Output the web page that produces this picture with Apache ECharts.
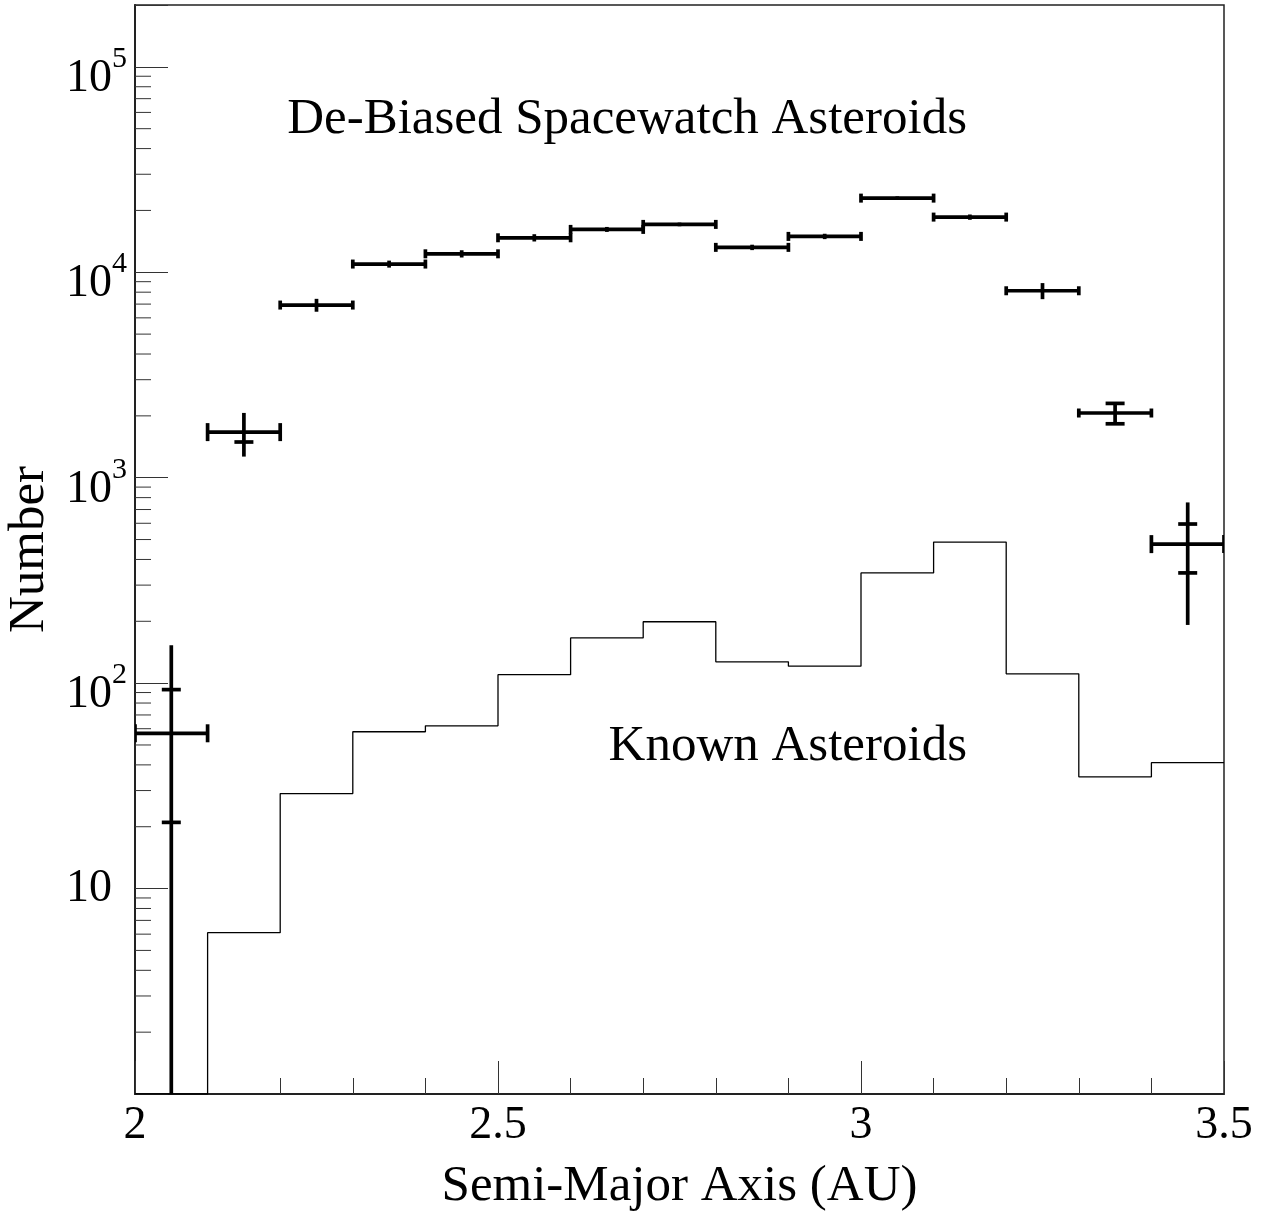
<!DOCTYPE html>
<html><head><meta charset="utf-8">
<script src="https://cdn.jsdelivr.net/npm/echarts@6/dist/echarts.min.js"></script>
<style>html,body{margin:0;padding:0;background:#fff}#chart{width:1264px;height:1214px}</style>
</head><body><div id="chart"></div>
<script>
// ---- data ----
const binEdges = [2.0, 2.1, 2.2, 2.3, 2.4, 2.5, 2.6, 2.7, 2.8, 2.9, 3.0, 3.1, 3.2, 3.3, 3.4, 3.5];
const knownCounts = [1, 6.1, 29, 58, 62, 110, 166, 199, 127, 121, 344, 486, 111, 35, 41];
const debiasedCounts = [57, 1667, 6925, 10965, 12300, 14720, 16170, 17100, 13220, 14950, 22960, 18560, 8128, 2065, 475];
const debiasedErrTotal = [96, 400, 500, 430, 500, 600, 450, 350, 400, 450, 460, 550, 730, 235, 283];
const debiasedErrStatLow = [36, 175, null, null, null, null, null, null, null, null, null, null, null, 235, 131];
const debiasedErrStatHigh = [36, null, null, null, null, null, null, null, null, null, null, null, null, 235, 120];
const xTickValues = [2, 2.5, 3, 3.5];
const yTickExponents = [1, 2, 3, 4, 5];
const xTitle = 'Semi-Major Axis (AU)';
const yTitle = 'Number';
const labelDebiased = 'De-Biased Spacewatch Asteroids';
const labelKnown = 'Known Asteroids';

const X_MIN = 2, X_MAX = 3.5, Y_MIN = 1, Y_MAX = 2e5;
const FONT = '"Liberation Serif", "Times New Roman", serif';

// known histogram as step line through bin edges
const knownStep = binEdges.map((e, i) => [e, knownCounts[Math.min(i, knownCounts.length - 1)]]);

// de-biased points with errors
const debiasedData = debiasedCounts.map((v, i) => [
  binEdges[i], binEdges[i + 1], v, debiasedErrTotal[i],
  debiasedErrStatLow[i] == null ? 0 : debiasedErrStatLow[i],
  debiasedErrStatHigh[i] == null ? 0 : debiasedErrStatHigh[i]
]);

// minor log ticks (2..9 x 10^k)
const minorTicks = [];
for (let k = 0; k <= 5; k++) for (let m = 2; m <= 9; m++) {
  const v = m * Math.pow(10, k);
  if (v < Y_MAX) minorTicks.push([X_MIN, v]);
}

const chart = echarts.init(document.getElementById('chart'), null, {renderer: 'canvas'});
const lineStyleBlack = {stroke: '#000', lineWidth: 3.7};

chart.setOption({
  animation: false,
  backgroundColor: '#fff',
  grid: {left: 135, right: 40, top: 5, bottom: 120, outerBoundsMode: 'none', containLabel: false,
         show: true, borderColor: '#222', borderWidth: 1.5, backgroundColor: 'transparent'},
  xAxis: {
    type: 'value', min: X_MIN, max: X_MAX, interval: 0.5,
    name: xTitle, nameLocation: 'middle', nameGap: 67,
    nameTextStyle: {fontFamily: FONT, fontSize: 51, color: '#000'},
    axisLine: {show: true, lineStyle: {color: '#222', width: 2}},
    axisTick: {show: true, inside: true, length: 33, lineStyle: {color: '#333', width: 1}},
    minorTick: {show: true, splitNumber: 5, length: 16, lineStyle: {color: '#333', width: 1}},
    splitLine: {show: false},
    axisLabel: {
      margin: 9, fontFamily: FONT, fontSize: 46, color: '#000',
      formatter: v => { const t = xTickValues.find(x => Math.abs(x - v) < 1e-6); return t === undefined ? '' : String(t); }
    }
  },
  yAxis: {
    type: 'log', logBase: 10, min: Y_MIN, max: Y_MAX,
    name: yTitle, nameLocation: 'middle', nameGap: 74,
    nameTextStyle: {fontFamily: FONT, fontSize: 51, color: '#000'},
    axisLine: {show: true, lineStyle: {color: '#222', width: 2}},
    axisTick: {show: true, inside: true, length: 33, lineStyle: {color: '#333', width: 1}},
    splitLine: {show: false},
    axisLabel: {
      margin: 8, fontFamily: FONT, fontSize: 46, color: '#000',
      formatter: v => {
        const k = Math.round(Math.log10(v));
        if (Math.abs(v - Math.pow(10, k)) > 1e-6 * v) return '';
        if (!yTickExponents.includes(k)) return '';
        if (k === 1) return '{bb|10}{e| }';
        return '{b|10}{s|' + k + '}';
      },
      rich: {
        b: {fontFamily: FONT, fontSize: 46, lineHeight: 46, padding: [12, 0, 0, 0], verticalAlign: 'top', color: '#000'},
        s: {fontFamily: FONT, fontSize: 30, lineHeight: 30, padding: [0, 0, 49, 0], verticalAlign: 'top', color: '#000'},
        bb: {fontFamily: FONT, fontSize: 46, lineHeight: 46, color: '#000'},
        e: {fontFamily: FONT, fontSize: 30, lineHeight: 30, width: 15, color: '#000'}
      }
    }
  },
  series: [
    {
      type: 'line', data: knownStep, step: 'end', symbol: 'none', clip: true,
      lineStyle: {color: '#000', width: 1.3}, silent: true
    },
    {
      type: 'custom', data: minorTicks, clip: true, silent: true,
      encode: {x: 0, y: 1},
      renderItem: (params, api) => {
        const p = api.coord([api.value(0), api.value(1)]);
        return {type: 'line', shape: {x1: p[0], y1: p[1], x2: p[0] + 16, y2: p[1]}, style: {stroke: '#333', lineWidth: 1}};
      }
    },
    {
      type: 'custom', data: debiasedData, clip: true, silent: true,
      encode: {x: [0, 1], y: 2},
      renderItem: (params, api) => {
        const x0 = api.value(0), x1 = api.value(1), y = api.value(2);
        const e = api.value(3), sl = api.value(4), sh = api.value(5);
        const xc = (x0 + x1) / 2;
        const pL = api.coord([x0, y]), pR = api.coord([x1, y]);
        const pT = api.coord([xc, y + e]);
        const pB = api.coord([xc, Math.max(y - e, Y_MIN)]);
        const half = (pB[1] - pT[1]) / 2 > 15 ? 9 : 4.5;
        const children = [
          {type: 'line', shape: {x1: pL[0], y1: pL[1], x2: pR[0], y2: pR[1]}, style: lineStyleBlack},
          {type: 'line', shape: {x1: pL[0], y1: pL[1] - half, x2: pL[0], y2: pL[1] + half}, style: lineStyleBlack},
          {type: 'line', shape: {x1: pR[0], y1: pR[1] - half, x2: pR[0], y2: pR[1] + half}, style: lineStyleBlack},
          {type: 'line', shape: {x1: pT[0], y1: pT[1], x2: pB[0], y2: pB[1]}, style: lineStyleBlack}
        ];
        if (sl > 0) {
          const q = api.coord([xc, y - sl]);
          children.push({type: 'line', shape: {x1: q[0] - 9.5, y1: q[1], x2: q[0] + 9.5, y2: q[1]}, style: lineStyleBlack});
        }
        if (sh > 0) {
          const q = api.coord([xc, y + sh]);
          children.push({type: 'line', shape: {x1: q[0] - 9.5, y1: q[1], x2: q[0] + 9.5, y2: q[1]}, style: lineStyleBlack});
        }
        return {type: 'group', children};
      }
    }
  ],
  graphic: [
    {type: 'text', x: 967, y: 120, style: {text: labelDebiased, fontFamily: FONT, fontSize: 51, fill: '#000', align: 'right', verticalAlign: 'middle'}},
    {type: 'text', x: 967, y: 747, style: {text: labelKnown, fontFamily: FONT, fontSize: 51, fill: '#000', align: 'right', verticalAlign: 'middle'}}
  ]
});
</script>
</body></html>
